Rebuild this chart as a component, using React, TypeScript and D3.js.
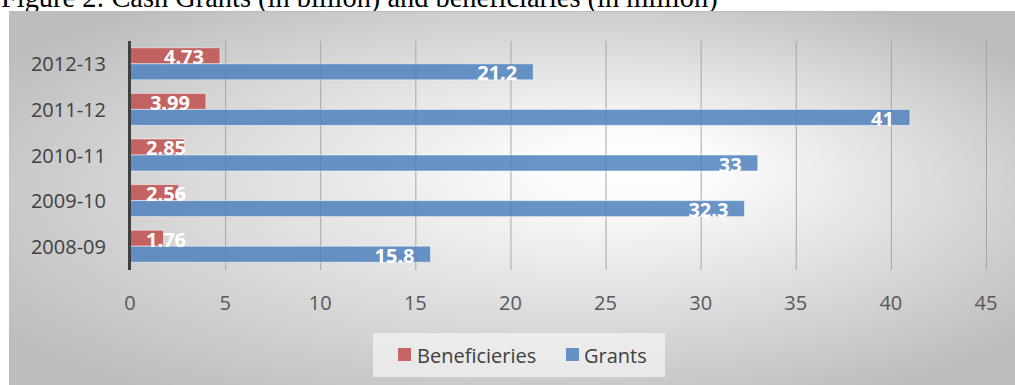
import React, { useEffect, useRef } from "react";
import * as d3 from "d3";

const categories = ["2012-13", "2011-12", "2010-11", "2009-10", "2008-09"];
const beneficiaries = [4.73, 3.99, 2.85, 2.56, 1.76];
const grants = [21.2, 41, 33, 32.3, 15.8];
const xTicks = [0, 5, 10, 15, 20, 25, 30, 35, 40, 45];
const seriesNames = ["Beneficieries", "Grants"];
const title = "Figure 2: Cash Grants (in billion) and beneficiaries (in million)";

const W = 1015;
const H = 385;
const RED = "#c0504d";
const BLUE = "#4f81bd";
const FONT = "'Open Sans', 'Liberation Sans', sans-serif";

export default function App() {
  const ref = useRef<SVGSVGElement | null>(null);

  useEffect(() => {
    const svg = d3.select(ref.current);
    svg.selectAll("*").remove();

    const defs = svg.append("defs");
    const grad = defs
      .append("radialGradient")
      .attr("id", "bg")
      .attr("cx", 0.5)
      .attr("cy", 0.5)
      .attr("r", 0.62)
      .attr("fx", 0.64)
      .attr("fy", 0.4);
    grad.append("stop").attr("offset", 0).attr("stop-color", "#ffffff");
    grad.append("stop").attr("offset", 0.15).attr("stop-color", "#fbfbfb");
    grad.append("stop").attr("offset", 1).attr("stop-color", "#bdbdbd");

    svg.append("rect").attr("x", 0).attr("y", 0).attr("width", W).attr("height", H).attr("fill", "#ffffff");

    svg
      .append("text")
      .attr("x", 1)
      .attr("y", 7)
      .attr("font-family", "'Liberation Serif', 'Times New Roman', serif")
      .attr("font-size", 28.4)
      .attr("fill", "#000")
      .text(title);

    svg
      .append("rect")
      .attr("x", 9)
      .attr("y", 11)
      .attr("width", W - 9 + 2)
      .attr("height", H - 11 + 2)
      .attr("fill", "url(#bg)");
    svg.append("line").attr("x1", 9).attr("x2", W).attr("y1", 11.5).attr("y2", 11.5).attr("stroke", "#bcbcbc").attr("stroke-width", 1);

    const x = d3.scaleLinear().domain([0, 45]).range([130, 986]);
    const y = d3.scaleBand<string>().domain(categories).range([41, 269]).paddingInner(0.298).paddingOuter(0.149);
    const sub = d3.scaleBand<string>().domain(seriesNames).range([0, y.bandwidth()]);

    // gridlines
    svg
      .append("g")
      .selectAll("line")
      .data(xTicks.filter((t) => t > 0))
      .join("line")
      .attr("x1", (d) => x(d) + 0.5)
      .attr("x2", (d) => x(d) + 0.5)
      .attr("y1", 41)
      .attr("y2", 270)
      .attr("stroke", "#a6a6a6")
      .attr("stroke-width", 1);

    // tick labels
    svg
      .append("g")
      .selectAll("text")
      .data(xTicks)
      .join("text")
      .attr("x", (d) => x(d))
      .attr("y", 302)
      .attr("text-anchor", "middle")
      .attr("dominant-baseline", "central")
      .attr("font-family", FONT)
      .attr("font-size", 20)
      .attr("fill", "#595959")
      .text((d) => String(d));

    // category labels
    svg
      .append("g")
      .selectAll("text")
      .data(categories)
      .join("text")
      .attr("x", 106)
      .attr("y", (d) => (y(d) as number) + y.bandwidth() / 2)
      .attr("text-anchor", "end")
      .attr("dominant-baseline", "central")
      .attr("font-family", FONT)
      .attr("font-size", 20)
      .attr("fill", "#404040")
      .text((d) => d);

    const series = [
      { name: seriesNames[0], values: beneficiaries, color: RED },
      { name: seriesNames[1], values: grants, color: BLUE },
    ];

    series.forEach((s) => {
      const g = svg.append("g");
      g.selectAll("rect")
        .data(s.values)
        .join("rect")
        .attr("x", x(0))
        .attr("y", (_, i) => (y(categories[i]) as number) + (sub(s.name) as number))
        .attr("width", (d) => x(d) - x(0))
        .attr("height", sub.bandwidth())
        .attr("fill", s.color)
        .attr("fill-opacity", 0.85)
        .attr("stroke", "#ffffff")
        .attr("stroke-opacity", 0.5)
        .attr("stroke-width", 1);
    });

    // axis line
    svg
      .append("line")
      .attr("x1", x(0) - 0.5)
      .attr("x2", x(0) - 0.5)
      .attr("y1", 41)
      .attr("y2", 270)
      .attr("stroke", "#404040")
      .attr("stroke-width", 3);

    // data labels
    series.forEach((s) => {
      const g = svg.append("g");
      g.selectAll("text")
        .data(s.values)
        .join("text")
        .attr("y", (_, i) => (y(categories[i]) as number) + (sub(s.name) as number) + sub.bandwidth() / 2 + 1)
        .attr("dominant-baseline", "central")
        .attr("font-family", FONT)
        .attr("font-weight", "bold")
        .attr("font-size", 20)
        .attr("fill", "#ffffff")
        .text((d) => String(d))
        .each(function (d) {
          const el = this as SVGTextElement;
          const w = el.getComputedTextLength();
          const left = Math.max(x(d) - 16 - w, x(0) + 16);
          d3.select(el).attr("x", left);
        });
    });

    // legend
    const lg = svg.append("g");
    lg.append("rect").attr("x", 373).attr("y", 333).attr("width", 292).attr("height", 44).attr("fill", "#f5f5f5").attr("fill-opacity", 0.7);
    const items = [
      { name: seriesNames[0], color: RED, sx: 398, tx: 417 },
      { name: seriesNames[1], color: BLUE, sx: 566, tx: 584 },
    ];
    items.forEach((it) => {
      lg.append("rect").attr("x", it.sx).attr("y", 348).attr("width", 13).attr("height", 13).attr("fill", it.color).attr("fill-opacity", 0.85);
      lg.append("text")
        .attr("x", it.tx)
        .attr("y", 355)
        .attr("dominant-baseline", "central")
        .attr("font-family", FONT)
        .attr("font-size", 20)
        .attr("fill", "#404040")
        .text(it.name);
    });
  }, []);

  return (
    <svg
      ref={ref}
      width={W}
      height={H}
      style={{ position: "absolute", left: 0, top: 0, display: "block" }}
    />
  );
}
